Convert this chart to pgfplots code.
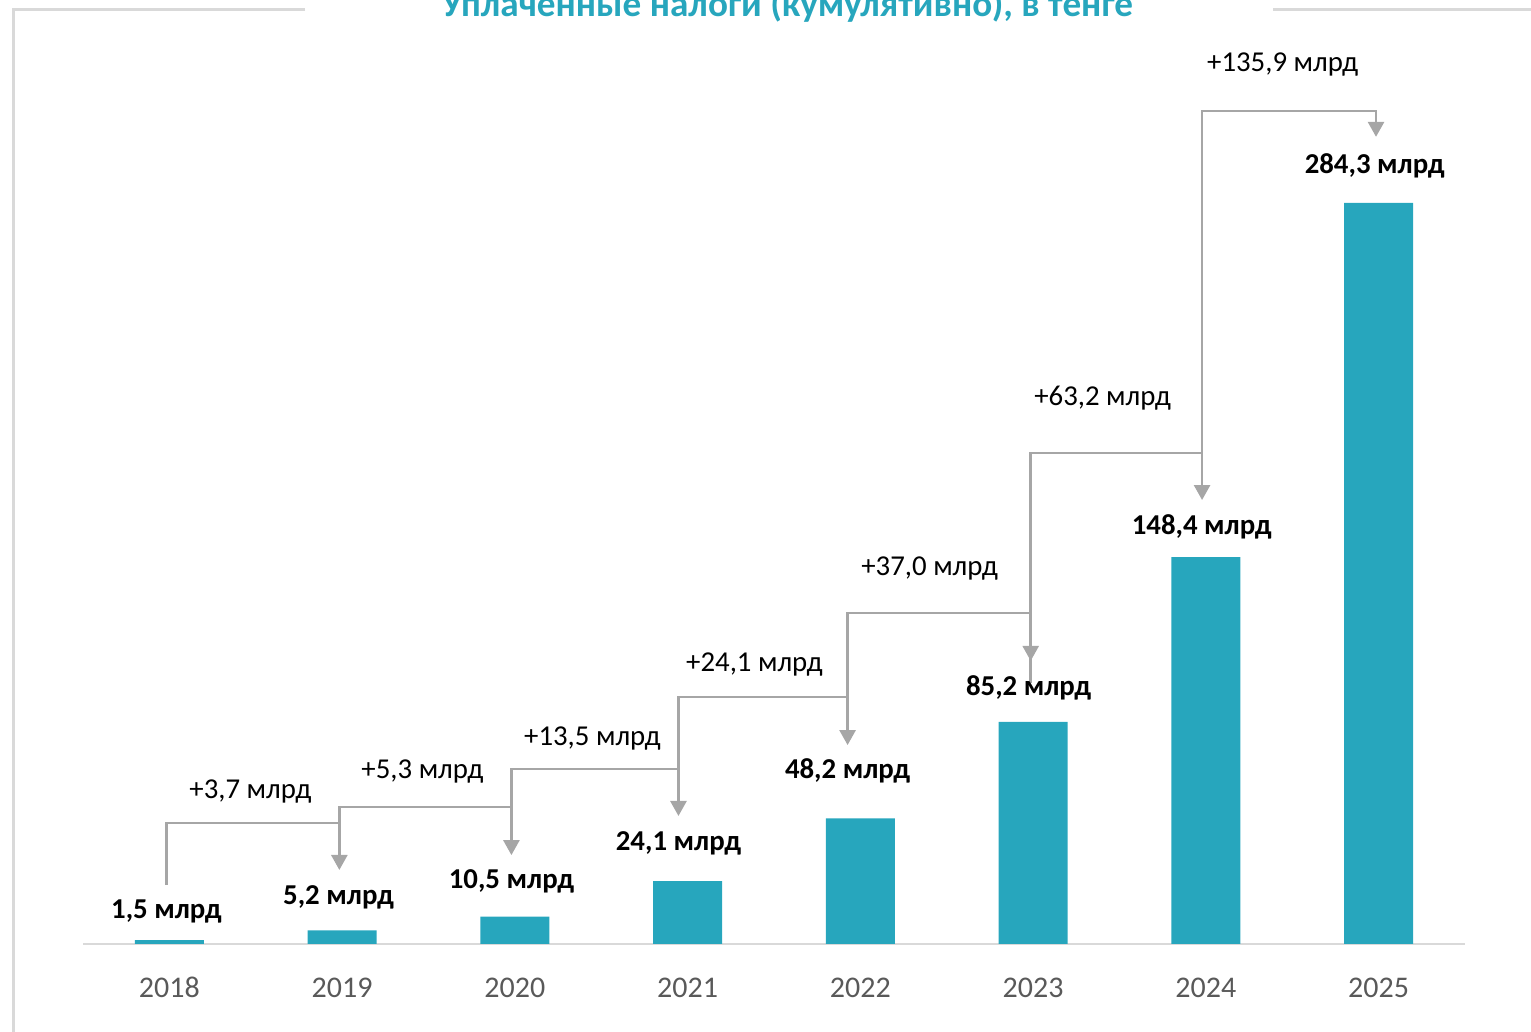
\documentclass[border=0pt]{standalone}
\usepackage{fontspec}
\setmainfont{Carlito}
\usepackage{pgfplots}
\pgfplotsset{compat=1.18}
\usetikzlibrary{arrows.meta}
\definecolor{barteal}{HTML}{27A6BD}
\definecolor{titleteal}{HTML}{27A6BD}
\definecolor{arrowgray}{HTML}{A6A6A6}
\definecolor{linegray}{HTML}{D9D9D9}
\definecolor{tickgray}{HTML}{595959}
\begin{document}
\begin{tikzpicture}
\path[use as bounding box] (-41.5pt,-44pt) rectangle (724pt,472pt);
\clip (-41.5pt,-44pt) rectangle (724pt,472pt);
\draw[linegray, line width=1.5pt] (111pt,467.25pt) -- (-34.75pt,467.25pt) -- (-34.75pt,-50pt);
\draw[linegray, line width=1.5pt] (595pt,467.25pt) -- (730pt,467.25pt);
\begin{axis}[
  at={(0pt,0pt)}, anchor=south west,
  scale only axis, width=691pt, height=472pt,
  xmin=-0.5, xmax=7.5, ymin=0, ymax=362.1,
  clip=false,
  axis x line=bottom, axis y line=none,
  axis line style={linegray, line width=1pt, -},
  xtick={0,1,2,3,4,5,6,7},
  xticklabels={2018,2019,2020,2021,2022,2023,2024,2025},
  major tick length=0pt,
  xticklabel style={font=\fontsize{15pt}{18pt}\selectfont, text=tickgray, anchor=base, yshift=-27pt},
  ytick=\empty,
  /pgf/number format/assume math mode=true,
]
\addplot[ybar, bar width=34.5pt, fill=barteal, draw=none] coordinates {
  (0,1.5) (1,5.2) (2,10.5) (3,24.1) (4,48.2) (5,85.2) (6,148.4) (7,284.3)};

\addplot[arrowgray, line width=1.35pt, -{Triangle[width=8pt,length=7.5pt]}, sharp plot, mark=none] coordinates {(-0.017,22.6) (-0.017,46.4) (0.984,46.4) (0.984,28.4)};
\addplot[arrowgray, line width=1.35pt, -{Triangle[width=8pt,length=7.5pt]}, sharp plot, mark=none] coordinates {(0.984,46.4) (0.984,52.6) (1.980,52.6) (1.980,34.1)};
\addplot[arrowgray, line width=1.35pt, -{Triangle[width=8pt,length=7.5pt]}, sharp plot, mark=none] coordinates {(1.980,52.6) (1.980,67.1) (2.947,67.1) (2.947,49.1)};
\addplot[arrowgray, line width=1.35pt, -{Triangle[width=8pt,length=7.5pt]}, sharp plot, mark=none] coordinates {(2.947,67.1) (2.947,94.7) (3.926,94.7) (3.926,76.3)};
\addplot[arrowgray, line width=1.35pt, -{Triangle[width=8pt,length=7.5pt]}, sharp plot, mark=none] coordinates {(3.926,94.7) (3.926,127.0) (4.986,127.0) (4.986,108.6)};
\addplot[arrowgray, line width=1.35pt, -{Triangle[width=8pt,length=7.5pt]}, sharp plot, mark=none] coordinates {(4.986,100) (4.986,188.3) (5.978,188.3) (5.978,170.3)};
\addplot[arrowgray, line width=1.35pt, -{Triangle[width=8pt,length=7.5pt]}, sharp plot, mark=none] coordinates {(5.978,188.3) (5.978,319.5) (6.985,319.5) (6.985,309.6)};

\node[anchor=base, font=\bfseries\fontsize{14.4pt}{17pt}\selectfont] at (axis cs:-0.017,9.6) {1,5 млрд};
\node[anchor=base, font=\bfseries\fontsize{14.4pt}{17pt}\selectfont] at (axis cs:0.979,15.0) {5,2 млрд};
\node[anchor=base, font=\bfseries\fontsize{14.4pt}{17pt}\selectfont] at (axis cs:1.980,21.1) {10,5 млрд};
\node[anchor=base, font=\bfseries\fontsize{14.4pt}{17pt}\selectfont] at (axis cs:2.947,35.7) {24,1 млрд};
\node[anchor=base, font=\bfseries\fontsize{14.4pt}{17pt}\selectfont] at (axis cs:3.926,63.3) {48,2 млрд};
\node[anchor=base, font=\bfseries\fontsize{14.4pt}{17pt}\selectfont] at (axis cs:4.974,95.5) {85,2 млрд};
\node[anchor=base, font=\bfseries\fontsize{14.4pt}{17pt}\selectfont] at (axis cs:5.976,156.9) {148,4 млрд};
\node[anchor=base, font=\bfseries\fontsize{14.4pt}{17pt}\selectfont] at (axis cs:6.977,295.7) {284,3 млрд};

\node[anchor=base, font=\fontsize{14.4pt}{17pt}\selectfont] at (axis cs:0.469,56.0) {+3,7 млрд};
\node[anchor=base, font=\fontsize{14.4pt}{17pt}\selectfont] at (axis cs:1.465,63.3) {+5,3 млрд};
\node[anchor=base, font=\fontsize{14.4pt}{17pt}\selectfont] at (axis cs:2.449,76.3) {+13,5 млрд};
\node[anchor=base, font=\fontsize{14.4pt}{17pt}\selectfont] at (axis cs:3.387,104.7) {+24,1 млрд};
\node[anchor=base, font=\fontsize{14.4pt}{17pt}\selectfont] at (axis cs:4.401,141.5) {+37,0 млрд};
\node[anchor=base, font=\fontsize{14.4pt}{17pt}\selectfont] at (axis cs:5.402,206.4) {+63,2 млрд};
\node[anchor=base, font=\fontsize{14.4pt}{17pt}\selectfont] at (axis cs:6.445,334.5) {+135,9 млрд};

\node[anchor=base, font=\bfseries\fontsize{18.6pt}{22pt}\selectfont, text=titleteal] at (axis cs:3.578,355.6) {Уплаченные налоги (кумулятивно), в тенге};
\end{axis}
\end{tikzpicture}
\end{document}
